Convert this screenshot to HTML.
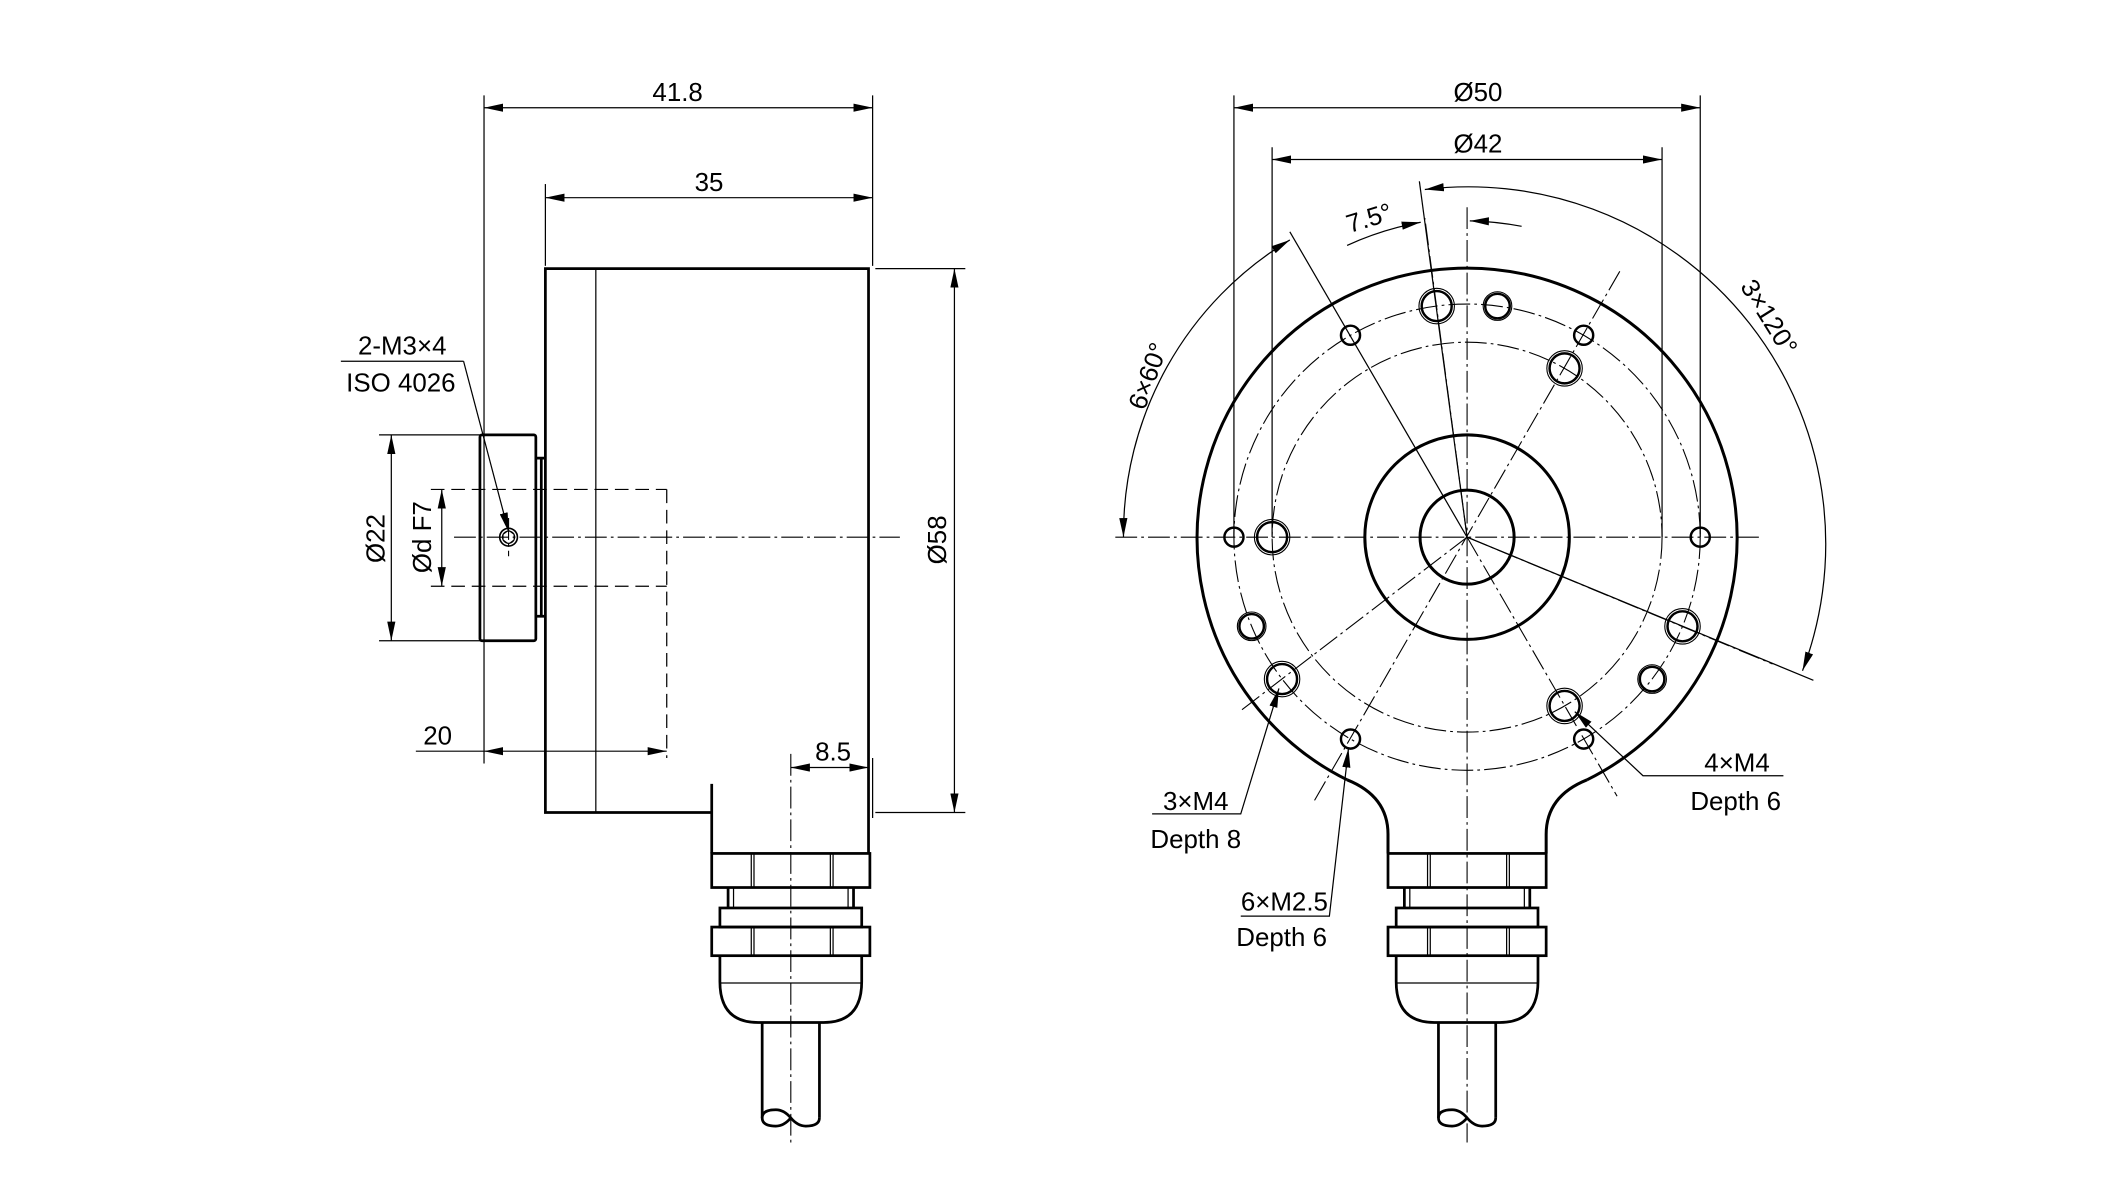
<!DOCTYPE html>
<html><head><meta charset="utf-8"><style>
html,body{margin:0;padding:0;background:#fff;}
svg{display:block;}
text{font-family:"Liberation Sans",sans-serif;font-size:19px;fill:#000;}
</style></head><body>
<svg width="2127" height="1182" viewBox="0 0 1560 867" preserveAspectRatio="none" xmlns="http://www.w3.org/2000/svg">
<defs>
<marker id="a" viewBox="0 0 14 6" refX="14" refY="3" markerWidth="14" markerHeight="6" markerUnits="userSpaceOnUse" orient="auto"><path d="M0,0 L14,3 L0,6 z" fill="#000"/></marker>
<marker id="b" viewBox="0 0 14 6" refX="0" refY="3" markerWidth="14" markerHeight="6" markerUnits="userSpaceOnUse" orient="auto"><path d="M14,0 L0,3 L14,6 z" fill="#000"/></marker>
</defs>
<rect width="1560" height="867" fill="#fff"/>
<g fill="none" stroke="#000">
<g stroke-width="0.9">
<line x1="355" y1="70" x2="355" y2="560"/>
<line x1="640" y1="70" x2="640" y2="195"/>
<line x1="400" y1="135" x2="400" y2="195"/>
<line x1="642" y1="197" x2="708" y2="197"/>
<line x1="642" y1="596" x2="708" y2="596"/>
<line x1="278" y1="319" x2="352" y2="319"/>
<line x1="278" y1="470" x2="352" y2="470"/>
<line x1="305" y1="551" x2="355" y2="551"/>
<line x1="640" y1="556" x2="640" y2="600"/>
<line x1="355" y1="79" x2="640" y2="79" marker-start="url(#b)" marker-end="url(#a)"/>
<line x1="400" y1="145" x2="640" y2="145" marker-start="url(#b)" marker-end="url(#a)"/>
<line x1="700" y1="197" x2="700" y2="596" marker-start="url(#b)" marker-end="url(#a)"/>
<line x1="287" y1="319" x2="287" y2="470" marker-start="url(#b)" marker-end="url(#a)"/>
<line x1="324" y1="359" x2="324" y2="430" marker-start="url(#b)" marker-end="url(#a)"/>
<line x1="355" y1="551" x2="489" y2="551" marker-start="url(#b)" marker-end="url(#a)"/>
<line x1="580" y1="563" x2="637" y2="563" marker-start="url(#b)" marker-end="url(#a)"/>
<line x1="250" y1="265" x2="340" y2="265"/>
<line x1="340" y1="265" x2="373" y2="390" marker-end="url(#a)"/>
<line x1="437" y1="197" x2="437" y2="596"/>
</g>
<g stroke-width="0.9" stroke-dasharray="10 5">
<line x1="316" y1="359" x2="489" y2="359"/>
<line x1="316" y1="430" x2="489" y2="430"/>
<line x1="489" y1="359" x2="489" y2="556"/>
</g>
<g stroke-width="0.8" stroke-dasharray="16 3 2 3">
<line x1="333" y1="394" x2="660" y2="394"/>
<line x1="580" y1="553" x2="580" y2="838"/>
<line x1="373" y1="380" x2="373" y2="408"/>
</g>
<g stroke-width="2">
<path d="M522,575 L522,626 M522,596 L400,596 L400,197 L637,197 L637,626"/>
<rect x="352" y="319" width="41" height="151" rx="1.5"/>
<path d="M393,336 L399,336 M393,452 L399,452 M397,336 L397,452"/>
</g>
<circle cx="373" cy="394" r="6.5" stroke-width="1.2"/>
<circle cx="373" cy="394" r="4.5" stroke-width="0.8"/>
<path d="M369,392 L373,389 L377,392 L377,396 L373,399 L369,396 z" stroke-width="0.7"/>

<g stroke-width="2">
<rect x="522" y="626" width="116" height="25"/>
<rect x="528" y="666" width="104" height="14"/>
<rect x="522" y="680" width="116" height="21"/>
<path d="M528,701 L528,720 Q528,750 556,750 L604,750 Q632,750 632,720 L632,701"/>
<path d="M559,750 L559,820 M601,750 L601,820"/>
<path d="M580,820 Q575,814 569,814 Q559,814 559,820 Q559,826 569,826 Q575,826 580,820 Q585,826 591,826 Q601,826 601,820"/>
<path d="M534,651 L534,666 M626,651 L626,666"/>
</g>
<g stroke-width="0.9">
<path d="M551,626 V651 M609,626 V651 M553,626 V651 M611,626 V651 M538,651 V666 M622,651 V666 M551,680 V701 M609,680 V701 M553,680 V701 M611,680 V701 M528,721 H632"/>
</g>

<g stroke-width="0.9">
<line x1="905" y1="70" x2="905" y2="394"/>
<line x1="1247" y1="70" x2="1247" y2="394"/>
<line x1="933" y1="108" x2="933" y2="394"/>
<line x1="1219" y1="108" x2="1219" y2="394"/>
<line x1="905" y1="79" x2="1247" y2="79" marker-start="url(#b)" marker-end="url(#a)"/>
<line x1="933" y1="117" x2="1219" y2="117" marker-start="url(#b)" marker-end="url(#a)"/>
<line x1="946" y1="170" x2="1076" y2="394"/>
<line x1="1041" y1="133" x2="1076" y2="394"/>
<line x1="1076" y1="394" x2="1330" y2="499"/>
<path d="M946,176 A252 252 0 0 0 824,394" marker-start="url(#b)" marker-end="url(#a)"/>
<path d="M1045,139 A262 262 0 0 1 1322,492" marker-start="url(#b)" marker-end="url(#a)"/>
<path d="M988,180 A232 232 0 0 1 1042,163" marker-end="url(#a)"/>
<path d="M1116,166 A232 232 0 0 0 1078,162" marker-end="url(#a)"/>
<path d="M845,597 H910 L938,505" marker-end="url(#a)"/>
<path d="M910,672 H975 L989,549" marker-end="url(#a)"/>
<path d="M1308,569 H1240 L1205,569 L1155,522" marker-end="url(#a)"/>
</g>
<g stroke-width="0.8" stroke-dasharray="16 3 2 3">
<line x1="818" y1="394" x2="1292" y2="394"/>
<line x1="1076" y1="152" x2="1076" y2="838"/>
<line x1="1076" y1="394" x2="1186" y2="584"/>
<line x1="1188" y1="199" x2="963" y2="589"/>
<line x1="1076" y1="394" x2="909" y2="522"/>
<line x1="1076" y1="394" x2="1045" y2="160"/>
<line x1="1076" y1="394" x2="1300" y2="487"/>
<circle cx="1076" cy="394" r="171"/>
<circle cx="1076" cy="394" r="143"/>
</g>
<g stroke-width="2.2">
<path d="M988,572 A198 198 0 1 1 1164,572"/>
<path d="M988,572 Q1018,584 1018,612 L1018,626 M1164,572 Q1134,584 1134,612 L1134,626"/>
<circle cx="1076" cy="394" r="75"/>
<circle cx="1076" cy="394" r="34.5"/>
</g>
<g stroke-width="1.8">
<circle cx="1247" cy="394" r="7"/><circle cx="1161.5" cy="245.9" r="7"/><circle cx="990.5" cy="245.9" r="7"/>
<circle cx="905" cy="394" r="7"/><circle cx="990.5" cy="542.1" r="7"/><circle cx="1161.5" cy="542.1" r="7"/>
<circle cx="1053.7" cy="224.5" r="11"/><circle cx="940.3" cy="498.1" r="11"/><circle cx="1234" cy="459.4" r="11"/>
<circle cx="1147.5" cy="270.2" r="11"/><circle cx="933" cy="394" r="11"/><circle cx="1147.5" cy="517.8" r="11"/>
<circle cx="1098.3" cy="224.5" r="9"/><circle cx="918" cy="459.4" r="9"/><circle cx="1211.7" cy="498.1" r="9"/>
</g>
<g stroke-width="0.8">
<circle cx="1053.7" cy="224.5" r="13"/><circle cx="940.3" cy="498.1" r="13"/><circle cx="1234" cy="459.4" r="13"/>
<circle cx="1147.5" cy="270.2" r="13"/><circle cx="933" cy="394" r="13"/><circle cx="1147.5" cy="517.8" r="13"/>
<circle cx="1098.3" cy="224.5" r="10.5"/><circle cx="918" cy="459.4" r="10.5"/><circle cx="1211.7" cy="498.1" r="10.5"/>
</g>
<g stroke-width="2">
<rect x="1018" y="626" width="116" height="25"/>
<rect x="1024" y="666" width="104" height="14"/>
<rect x="1018" y="680" width="116" height="21"/>
<path d="M1024,701 L1024,720 Q1024,750 1052,750 L1100,750 Q1128,750 1128,720 L1128,701"/>
<path d="M1055,750 L1055,820 M1097,750 L1097,820"/>
<path d="M1076,820 Q1071,814 1065,814 Q1055,814 1055,820 Q1055,826 1065,826 Q1071,826 1076,820 Q1081,826 1087,826 Q1097,826 1097,820"/>
<path d="M1030,651 L1030,666 M1122,651 L1122,666"/>
</g>
<g stroke-width="0.9">
<path d="M1047,626 V651 M1105,626 V651 M1049,626 V651 M1107,626 V651 M1034,651 V666 M1118,651 V666 M1047,680 V701 M1105,680 V701 M1049,680 V701 M1107,680 V701 M1024,721 H1128"/>
</g>
</g>

<text x="497" y="74" text-anchor="middle">41.8</text>
<text x="520" y="140" text-anchor="middle">35</text>
<text x="295" y="260" text-anchor="middle">2-M3×4</text>
<text x="294" y="287" text-anchor="middle">ISO 4026</text>
<text x="321" y="546" text-anchor="middle">20</text>
<text x="611" y="558" text-anchor="middle">8.5</text>
<text transform="translate(282,395) rotate(-90)" text-anchor="middle">Ø22</text>
<text transform="translate(316,394) rotate(-90)" text-anchor="middle">Ød F7</text>
<text transform="translate(694,396) rotate(-90)" text-anchor="middle">Ø58</text>

<text x="1084" y="74" text-anchor="middle">Ø50</text>
<text x="1084" y="112" text-anchor="middle">Ø42</text>
<text transform="translate(1006,166) rotate(-17)" text-anchor="middle">7.5°</text>
<text transform="translate(848,278) rotate(-70)" text-anchor="middle">6×60°</text>
<text transform="translate(1292,236) rotate(58)" text-anchor="middle">3×120°</text>
<text x="877" y="594" text-anchor="middle">3×M4</text>
<text x="877" y="622" text-anchor="middle">Depth 8</text>
<text x="942" y="668" text-anchor="middle">6×M2.5</text>
<text x="940" y="694" text-anchor="middle">Depth 6</text>
<text x="1274" y="566" text-anchor="middle">4×M4</text>
<text x="1273" y="594" text-anchor="middle">Depth 6</text>
</svg>
</body></html>
